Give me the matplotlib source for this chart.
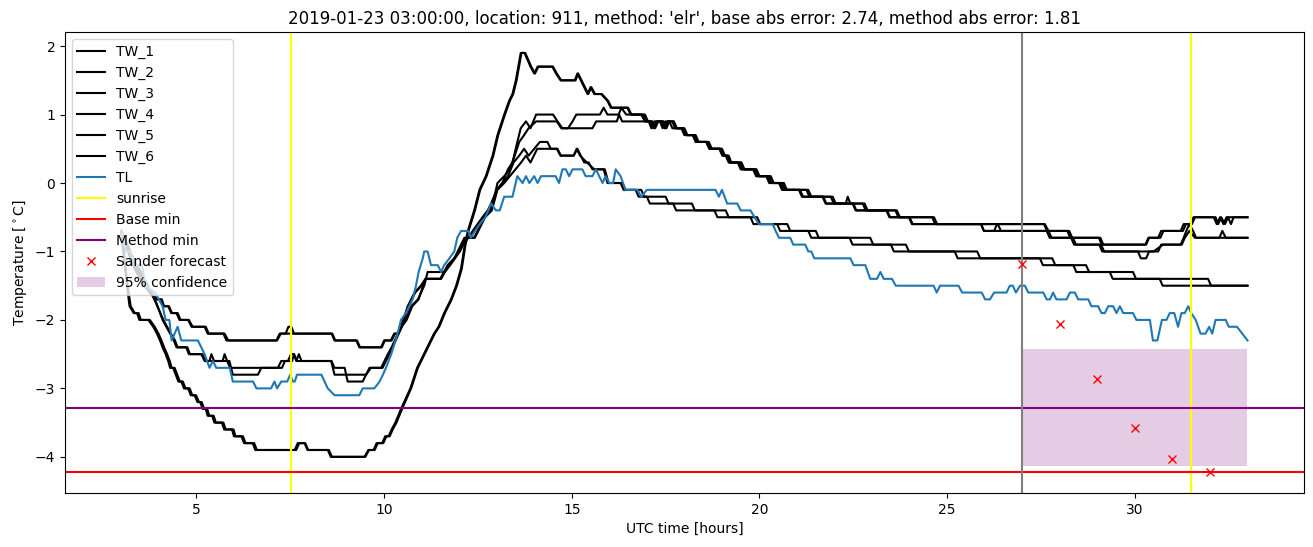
import matplotlib
matplotlib.use("Agg")
import matplotlib.pyplot as plt

# --- data (hours UTC, degC) ---
TW_1 = [(3.0,-0.7),(3.15,-1.5),(3.22,-1.8),(3.33,-1.9),(3.42,-1.9),(3.48,-2.0),(3.72,-2.0),(3.85,-2.1),
        (3.95,-2.2),(4.03,-2.3),(4.1,-2.4),(4.18,-2.5),(4.25,-2.6),(4.3,-2.7),(4.38,-2.7),(4.45,-2.8),
        (4.52,-2.9),(4.6,-2.9),(4.67,-3.0),(4.78,-3.0),(4.85,-3.1),(4.95,-3.1),(5.03,-3.2),(5.1,-3.2),
        (5.17,-3.3),(5.25,-3.3),(5.3,-3.4),(5.42,-3.4),(5.48,-3.5),(5.68,-3.5),(5.74,-3.6),(5.95,-3.6),
        (6.0,-3.7),(6.2,-3.7),(6.27,-3.8),(6.5,-3.8),(6.57,-3.9),(7.62,-3.9),(7.7,-3.8),(7.88,-3.8),
        (7.96,-3.9),(8.5,-3.9),(8.58,-4.0),(9.48,-4.0),(9.58,-3.9),(9.72,-3.9),(9.8,-3.8),(9.95,-3.8),
        (10.03,-3.7),(10.12,-3.7),(10.2,-3.6),(10.3,-3.5),(10.45,-3.3),(10.7,-3.0),(10.88,-2.7),(11.15,-2.4),
        (11.33,-2.2),(11.45,-2.1),(11.6,-1.9),(11.78,-1.7),(11.92,-1.5),(12.05,-1.25),(12.15,-0.9),(12.23,-0.7),
        (12.4,-0.4),(12.54,-0.1),(12.71,0.1),(12.89,0.4),(13.02,0.7),(13.2,1.0),(13.33,1.2),(13.42,1.3),
        (13.51,1.5),(13.64,1.9),(13.74,1.9),(13.9,1.7),(14.0,1.6),(14.09,1.7),(14.48,1.7),(14.58,1.6),
        (14.7,1.5),(15.08,1.5),(15.15,1.6),(15.42,1.3),(15.5,1.4),(15.6,1.3),(15.78,1.3),(15.95,1.2),
        (16.04,1.1),(16.48,1.1),(16.57,1.0),(16.9,1.0),(17.0,0.9),(17.1,0.9),(17.17,0.8),(17.25,0.9),
        (17.4,0.9),(17.47,0.8),(17.55,0.9),(17.68,0.9),(17.75,0.8),(17.95,0.8),(18.05,0.7),(18.22,0.7),
        (18.3,0.6),(18.6,0.6),(18.68,0.5),(18.95,0.5),(19.03,0.4),(19.13,0.4),(19.2,0.3),(19.45,0.3),
        (19.53,0.2),(19.85,0.2),(19.93,0.1),(20.2,0.1),(20.28,0.0),(20.55,0.0),(20.63,-0.1),(21.08,-0.1),
        (21.16,-0.2),(21.7,-0.2),(21.78,-0.3),(22.3,-0.3),(22.35,-0.2),(22.42,-0.3),(22.5,-0.3),(22.58,-0.4),
        (23.4,-0.4),(23.48,-0.5),(24.0,-0.5),(24.08,-0.6),(25.9,-0.6),(25.98,-0.7),(26.25,-0.7),(26.33,-0.6),
        (27.6,-0.6),(27.7,-0.7),(28.2,-0.7),(28.28,-0.8),(29.04,-0.8),(29.12,-0.9),(30.3,-0.9),(30.38,-0.8),
        (30.62,-0.8),(30.7,-0.7),(31.22,-0.7),(31.3,-0.6),(31.48,-0.6),(31.56,-0.5),(32.15,-0.5),(32.22,-0.6),
        (32.3,-0.5),(32.4,-0.6),(32.48,-0.5),(32.56,-0.6),(32.63,-0.5),(33.0,-0.5)]

TW_2 = [(3.0,-0.7),(3.17,-1.5),(3.25,-1.8),(3.36,-1.9),(3.46,-1.9),(3.52,-2.0),(3.76,-2.0),(3.89,-2.1),
        (3.99,-2.2),(4.07,-2.3),(4.14,-2.4),(4.22,-2.5),(4.29,-2.6),(4.34,-2.7),(4.42,-2.7),(4.49,-2.8),
        (4.56,-2.9),(4.64,-2.9),(4.71,-3.0),(4.82,-3.0),(4.89,-3.1),(4.99,-3.1),(5.07,-3.2),(5.14,-3.2),
        (5.21,-3.3),(5.29,-3.3),(5.34,-3.4),(5.46,-3.4),(5.52,-3.5),(5.72,-3.5),(5.78,-3.6),(5.99,-3.6),
        (6.04,-3.7),(6.24,-3.7),(6.31,-3.8),(6.54,-3.8),(6.61,-3.9),(7.66,-3.9),(7.74,-3.8),(7.9,-3.8),
        (7.98,-3.9),(8.53,-3.9),(8.61,-4.0),(9.5,-4.0),(9.6,-3.9),(9.75,-3.9),(9.83,-3.8),(9.98,-3.8),
        (10.06,-3.7),(10.15,-3.7),(10.23,-3.6),(10.33,-3.5),(10.48,-3.3),(10.72,-3.0),(10.9,-2.7),(11.17,-2.4),
        (11.35,-2.2),(11.47,-2.1),(11.62,-1.9),(11.8,-1.7),(11.94,-1.5),(12.07,-1.25),(12.17,-0.9),(12.25,-0.7),
        (12.42,-0.4),(12.56,-0.1),(12.73,0.1),(12.91,0.4),(13.04,0.7),(13.22,1.0),(13.35,1.2),(13.44,1.3),
        (13.53,1.5),(13.66,1.9),(13.76,1.9),(13.92,1.7),(14.02,1.6),(14.11,1.7),(14.5,1.7),(14.6,1.6),
        (14.72,1.5),(15.1,1.5),(15.17,1.6),(15.44,1.3),(15.52,1.4),(15.62,1.3),(15.8,1.3),(15.97,1.2),
        (16.06,1.1),(16.5,1.1),(16.59,1.0),(16.95,1.0),(17.03,0.9),(17.15,0.9),(17.22,0.8),(17.3,0.9),
        (17.42,0.9),(17.5,0.8),(17.58,0.9),(17.7,0.9),(17.78,0.8),(17.98,0.8),(18.06,0.7),(18.24,0.7),
        (18.32,0.6),(18.58,0.6),(18.66,0.5),(18.93,0.5),(19.01,0.4),(19.1,0.4),(19.18,0.3),(19.42,0.3),
        (19.5,0.2),(19.83,0.2),(19.91,0.1),(20.18,0.1),(20.26,0.0),(20.52,0.0),(20.6,-0.1),(21.05,-0.1),
        (21.13,-0.2),(21.68,-0.2),(21.76,-0.3),(22.48,-0.3),(22.56,-0.4),(23.38,-0.4),(23.46,-0.5),(23.98,-0.5),
        (24.06,-0.6),(27.58,-0.6),(27.66,-0.7),(28.25,-0.7),(28.33,-0.8),(29.08,-0.8),(29.16,-0.9),(30.28,-0.9),
        (30.36,-0.8),(30.68,-0.8),(30.76,-0.7),(31.28,-0.7),(31.36,-0.6),(31.52,-0.6),(31.6,-0.5),(32.1,-0.5),
        (32.18,-0.6),(32.27,-0.5),(32.36,-0.6),(32.44,-0.5),(33.0,-0.5)]

TW_3 = [(3.0,-0.7),(3.3,-1.15),(3.6,-1.45),(3.75,-1.6),(3.95,-1.7),(4.05,-1.7),(4.11,-1.8),(4.25,-1.8),
        (4.33,-1.9),(4.47,-1.9),(4.55,-2.0),(4.78,-2.0),(4.87,-2.1),(5.22,-2.1),(5.3,-2.2),(5.72,-2.2),
        (5.8,-2.3),(7.13,-2.3),(7.22,-2.2),(7.38,-2.2),(7.45,-2.1),(7.53,-2.1),(7.6,-2.2),(8.6,-2.2),
        (8.68,-2.3),(9.26,-2.3),(9.34,-2.4),(9.92,-2.4),(10.0,-2.3),(10.18,-2.3),(10.27,-2.2),(10.36,-2.2),
        (10.45,-2.1),(10.58,-2.0),(10.72,-1.8),(10.9,-1.7),(11.07,-1.5),(11.16,-1.3),(11.6,-1.3),(11.69,-1.2),
        (11.87,-1.1),(11.96,-1.0),(12.05,-0.9),(12.14,-0.8),(12.25,-0.8),(12.36,-0.7),(12.49,-0.6),(12.62,-0.5),
        (12.76,-0.4),(12.85,-0.3),(13.0,-0.1),(13.15,0.0),(13.3,0.2),(13.42,0.3),(13.55,0.6),(13.64,0.8),
        (13.78,0.9),(13.9,0.8),(14.05,1.0),(14.5,1.0),(14.62,0.9),(14.75,0.8),(14.9,0.8),(15.02,0.9),
        (15.12,1.0),(15.75,1.0),(15.85,1.1),(15.95,1.0),(16.25,1.0),(16.32,1.1),(16.45,1.0),(16.85,1.0),
        (16.95,0.9),(17.12,0.9),(17.2,0.8),(17.3,0.9),(17.45,0.9),(17.52,0.8),(17.6,0.9),(17.72,0.9),
        (17.8,0.8),(18.0,0.8),(18.08,0.7),(18.27,0.7),(18.35,0.6),(18.62,0.6),(18.7,0.5),(18.98,0.5),
        (19.06,0.4),(19.15,0.4),(19.22,0.3),(19.5,0.3),(19.58,0.2),(19.9,0.2),(19.98,0.1),(20.25,0.1),
        (20.33,0.0),(20.6,0.0),(20.68,-0.1),(21.25,-0.1),(21.33,-0.2),(21.9,-0.2),(21.98,-0.3),(22.75,-0.3),
        (22.83,-0.4),(23.62,-0.4),(23.7,-0.5),(24.6,-0.5),(24.68,-0.6),(25.9,-0.6),(25.98,-0.7),(27.65,-0.7),
        (27.73,-0.8),(28.3,-0.8),(28.38,-0.9),(29.05,-0.9),(29.13,-1.0),(30.08,-1.0),(30.16,-1.1),(30.3,-1.1),
        (30.38,-1.0),(30.62,-1.0),(30.7,-0.9),(31.22,-0.9),(31.3,-0.8),(31.37,-0.7),(31.45,-0.6),(31.55,-0.7),
        (31.63,-0.8),(32.25,-0.8),(32.33,-0.7),(32.42,-0.8),(33.0,-0.8)]

TW_4 = [(3.0,-0.7),(3.3,-1.2),(3.6,-1.5),(3.78,-1.6),(3.97,-1.7),(4.08,-1.7),(4.14,-1.8),(4.27,-1.8),
        (4.35,-1.9),(4.5,-1.9),(4.58,-2.0),(4.8,-2.0),(4.9,-2.1),(5.25,-2.1),(5.33,-2.2),(5.75,-2.2),
        (5.85,-2.3),(7.15,-2.3),(7.25,-2.2),(8.62,-2.2),(8.7,-2.3),(9.28,-2.3),(9.36,-2.4),(9.94,-2.4),
        (10.02,-2.3),(10.2,-2.3),(10.29,-2.2),(10.38,-2.2),(10.47,-2.1),(10.6,-2.0),(10.75,-1.8),(10.92,-1.7),
        (11.1,-1.4),(11.5,-1.4),(11.6,-1.3),(11.72,-1.2),(11.88,-1.1),(11.98,-1.0),(12.08,-0.9),(12.2,-0.8),
        (12.3,-0.8),(12.4,-0.7),(12.55,-0.6),(12.68,-0.5),(12.8,-0.4),(12.9,-0.3),(13.02,0.0),(13.2,0.1),
        (13.35,0.2),(13.48,0.4),(13.6,0.6),(13.73,0.7),(13.85,0.8),(14.05,0.9),(14.6,0.9),(14.72,0.8),
        (15.55,0.8),(15.65,0.9),(16.2,0.9),(16.26,1.0),(16.34,0.9),(17.05,0.9),(17.12,0.8),(17.2,0.9),
        (17.35,0.9),(17.42,0.8),(17.5,0.9),(17.6,0.9),(17.68,0.8),(17.92,0.8),(18.0,0.7),(18.3,0.7),
        (18.38,0.6),(18.65,0.6),(18.73,0.5),(19.0,0.5),(19.08,0.4),(19.18,0.4),(19.25,0.3),(19.52,0.3),
        (19.6,0.2),(19.92,0.2),(20.0,0.1),(20.3,0.1),(20.38,0.0),(20.65,0.0),(20.73,-0.1),(21.3,-0.1),
        (21.38,-0.2),(21.95,-0.2),(22.03,-0.3),(22.8,-0.3),(22.88,-0.4),(23.66,-0.4),(23.74,-0.5),(24.65,-0.5),
        (24.73,-0.6),(26.35,-0.6),(26.43,-0.7),(27.7,-0.7),(27.78,-0.8),(28.35,-0.8),(28.43,-0.9),(29.1,-0.9),
        (29.18,-1.0),(30.5,-1.0),(30.75,-0.9),(31.25,-0.9),(31.33,-0.8),(31.45,-0.7),(31.6,-0.8),(32.25,-0.8),
        (33.0,-0.8)]

TW_5 = [(3.0,-0.7),(3.3,-1.1),(3.6,-1.4),(3.9,-1.7),(4.1,-2.0),(4.3,-2.2),(4.4,-2.3),(4.47,-2.4),
        (4.73,-2.4),(4.8,-2.5),(5.13,-2.5),(5.22,-2.6),(5.35,-2.6),(5.4,-2.5),(5.47,-2.6),(5.7,-2.6),
        (5.75,-2.5),(5.82,-2.6),(5.9,-2.7),(7.17,-2.7),(7.26,-2.6),(7.44,-2.6),(7.52,-2.5),(7.6,-2.5),
        (7.66,-2.6),(7.73,-2.5),(7.8,-2.6),(8.59,-2.6),(8.68,-2.8),(9.52,-2.8),(9.61,-2.7),(9.92,-2.7),
        (10.01,-2.6),(10.1,-2.5),(10.2,-2.4),(10.45,-2.1),(10.63,-1.8),(10.81,-1.6),(10.98,-1.5),(11.1,-1.4),
        (11.5,-1.4),(11.6,-1.3),(11.74,-1.2),(11.87,-1.1),(12.0,-1.0),(12.09,-0.9),(12.22,-0.8),(12.4,-0.8),
        (12.49,-0.7),(12.67,-0.5),(12.85,-0.4),(13.0,-0.1),(13.15,0.0),(13.3,0.1),(13.45,0.3),(13.6,0.4),
        (13.73,0.5),(13.85,0.4),(14.0,0.5),(14.15,0.6),(14.35,0.6),(14.44,0.5),(14.62,0.5),(14.71,0.4),
        (15.05,0.4),(15.15,0.5),(15.33,0.3),(15.45,0.3),(15.55,0.2),(15.85,0.2),(15.95,0.0),(16.3,0.0),
        (16.38,-0.1),(16.7,-0.1),(16.78,-0.2),(17.0,-0.2),(17.08,-0.3),(17.7,-0.3),(17.78,-0.4),(18.8,-0.4),
        (18.88,-0.5),(19.76,-0.5),(19.84,-0.6),(20.47,-0.6),(20.55,-0.7),(21.3,-0.7),(21.38,-0.8),(22.4,-0.8),
        (22.48,-0.9),(23.5,-0.9),(23.58,-1.0),(25.2,-1.0),(25.28,-1.1),(27.47,-1.1),(27.55,-1.2),(28.36,-1.2),
        (28.44,-1.3),(29.33,-1.3),(29.41,-1.4),(30.66,-1.4),(30.74,-1.5),(33.0,-1.5)]

TW_6 = [(3.0,-0.7),(3.32,-1.1),(3.62,-1.4),(3.92,-1.75),(4.12,-2.0),(4.32,-2.2),(4.43,-2.3),(4.5,-2.4),
        (4.76,-2.4),(4.83,-2.5),(5.16,-2.5),(5.25,-2.6),(5.88,-2.6),(5.97,-2.8),(6.64,-2.8),(6.73,-2.7),
        (7.28,-2.7),(7.36,-2.6),(7.55,-2.6),(7.6,-2.5),(7.68,-2.6),(8.6,-2.6),(8.68,-2.7),(8.95,-2.7),
        (9.03,-2.9),(9.43,-2.9),(9.52,-2.8),(9.65,-2.7),(9.96,-2.7),(10.05,-2.6),(10.14,-2.5),(10.23,-2.4),
        (10.47,-2.1),(10.65,-1.8),(10.83,-1.6),(11.0,-1.5),(11.12,-1.4),(11.52,-1.4),(11.62,-1.3),(11.76,-1.2),
        (11.89,-1.1),(12.02,-1.0),(12.11,-0.9),(12.24,-0.8),(12.42,-0.8),(12.51,-0.7),(12.69,-0.5),(12.87,-0.4),
        (13.02,-0.1),(13.2,0.0),(13.35,0.1),(13.5,0.2),(13.65,0.3),(13.78,0.4),(13.9,0.3),(14.08,0.5),
        (14.6,0.5),(14.7,0.4),(15.05,0.4),(15.13,0.5),(15.22,0.4),(15.4,0.3),(15.6,0.2),(15.88,0.2),
        (15.98,0.0),(16.35,0.0),(16.43,-0.1),(16.85,-0.1),(16.93,-0.2),(17.5,-0.2),(17.58,-0.3),(18.2,-0.3),
        (18.28,-0.4),(19.1,-0.4),(19.18,-0.5),(19.94,-0.5),(20.02,-0.6),(20.74,-0.6),(20.82,-0.7),(21.5,-0.7),
        (21.58,-0.8),(22.95,-0.8),(23.03,-0.9),(23.9,-0.9),(23.98,-1.0),(25.8,-1.0),(25.88,-1.1),(27.8,-1.1),
        (27.88,-1.2),(28.7,-1.2),(28.78,-1.3),(29.95,-1.3),(30.03,-1.4),(31.95,-1.4),(32.03,-1.5),(33.0,-1.5)]

TL = [(3.0,-0.7),(3.12,-1.0),(3.25,-1.0),(3.35,-1.2),(3.55,-1.2),(3.65,-1.5),(3.9,-1.6),(4.0,-1.7),
      (4.1,-1.8),(4.18,-2.0),(4.28,-2.0),(4.34,-2.3),(4.5,-2.1),(4.6,-2.3),(5.04,-2.3),(5.22,-2.5),
      (5.35,-2.7),(5.44,-2.6),(5.53,-2.7),(5.89,-2.7),(5.97,-2.9),(6.51,-2.9),(6.6,-3.0),(6.99,-3.0),
      (7.08,-2.9),(7.15,-3.0),(7.26,-2.9),(7.42,-2.9),(7.5,-2.8),(7.57,-2.9),(7.62,-2.9),(7.68,-2.8),
      (8.33,-2.8),(8.5,-3.0),(8.68,-3.1),(9.34,-3.1),(9.43,-3.0),(9.74,-3.0),(9.88,-2.9),(9.97,-2.8),
      (10.05,-2.7),(10.19,-2.5),(10.36,-2.2),(10.45,-2.0),(10.58,-1.9),(10.67,-1.8),(10.76,-1.7),(10.85,-1.5),
      (10.92,-1.3),(11.03,-1.1),(11.07,-1.0),(11.16,-1.0),(11.25,-1.2),(11.43,-1.2),(11.52,-1.3),(11.6,-1.2),
      (11.74,-1.1),(11.87,-1.0),(11.95,-0.8),(12.05,-0.7),(12.25,-0.7),(12.31,-0.8),(12.42,-0.7),(12.55,-0.6),
      (12.7,-0.5),(12.85,-0.3),(12.98,-0.4),(13.08,-0.4),(13.2,-0.2),(13.42,-0.2),(13.55,0.1),(13.69,0.0),
      (13.78,0.1),(13.87,0.0),(14.0,0.1),(14.09,0.0),(14.18,0.1),(14.57,0.1),(14.66,0.0),(14.75,0.2),
      (14.84,0.2),(14.93,0.1),(15.02,0.2),(15.28,0.2),(15.37,0.1),(15.55,0.1),(15.64,0.2),(15.73,0.1),
      (15.82,0.0),(15.9,0.1),(16.0,0.0),(16.1,0.0),(16.17,0.2),(16.3,0.1),(16.43,-0.1),(16.75,-0.1),
      (16.85,-0.2),(17.0,-0.1),(18.83,-0.1),(18.92,-0.2),(19.0,-0.1),(19.14,-0.3),(19.41,-0.3),(19.5,-0.4),
      (19.76,-0.4),(19.87,-0.5),(19.98,-0.6),(20.35,-0.6),(20.43,-0.7),(20.52,-0.8),(20.82,-0.8),(20.9,-0.9),
      (21.22,-0.9),(21.3,-1.0),(21.38,-1.0),(21.46,-1.1),(22.42,-1.1),(22.51,-1.2),(22.82,-1.2),(22.95,-1.4),
      (23.13,-1.4),(23.22,-1.3),(23.31,-1.4),(23.53,-1.4),(23.63,-1.5),(24.64,-1.5),(24.72,-1.6),(24.81,-1.5),
      (25.3,-1.5),(25.4,-1.6),(25.92,-1.6),(26.01,-1.7),(26.14,-1.7),(26.25,-1.6),(26.58,-1.6),(26.67,-1.5),
      (26.75,-1.5),(26.83,-1.6),(26.94,-1.5),(27.07,-1.5),(27.16,-1.6),(27.56,-1.6),(27.65,-1.7),(27.74,-1.7),
      (27.82,-1.6),(27.91,-1.7),(28.18,-1.7),(28.27,-1.6),(28.4,-1.6),(28.49,-1.7),(28.76,-1.7),(28.84,-1.8),
      (29.02,-1.8),(29.11,-1.9),(29.2,-1.9),(29.29,-1.8),(29.42,-1.8),(29.51,-1.9),(29.6,-1.8),(29.69,-1.9),
      (29.95,-1.9),(30.04,-2.0),(30.4,-2.0),(30.48,-2.3),(30.6,-2.3),(30.72,-2.0),(30.84,-2.0),(30.93,-1.9),
      (31.05,-1.9),(31.15,-2.1),(31.24,-1.9),(31.33,-1.9),(31.42,-1.8),(31.5,-1.9),(31.62,-2.0),(31.75,-2.2),
      (31.88,-2.2),(31.98,-2.1),(32.06,-2.2),(32.15,-2.0),(32.42,-2.0),(32.5,-2.1),(32.72,-2.1),(33.0,-2.3)]

sunrise = [7.52, 31.5]
now_hour = 27.0
base_min = -4.22
method_min = -3.29
forecast_hours = [27, 28, 29, 30, 31, 32]
forecast_temp = [-1.19, -2.06, -2.87, -3.58, -4.03, -4.22]
conf_hours = [27, 33]
conf_low = -4.13
conf_high = -2.42

title = ("2019-01-23 03:00:00, location: 911, method: 'elr', "
         "base abs error: 2.74, method abs error: 1.81")

# --- plot ---
fig, ax = plt.subplots(figsize=(13.13, 5.47), dpi=100)
fig.subplots_adjust(left=0.0495, right=0.993, top=0.9415, bottom=0.099)

for name, series in [("TW_1", TW_1), ("TW_2", TW_2), ("TW_3", TW_3),
                     ("TW_4", TW_4), ("TW_5", TW_5), ("TW_6", TW_6)]:
    t, v = zip(*series)
    ax.plot(t, v, color="black", label=name)

t, v = zip(*TL)
ax.plot(t, v, color="tab:blue", label="TL")

ax.axvline(sunrise[0], color="yellow", label="sunrise")
ax.axvline(sunrise[1], color="yellow")
ax.axhline(base_min, color="red", label="Base min")
ax.axhline(method_min, color="purple", label="Method min")
ax.axvline(now_hour, color="gray")
ax.plot(forecast_hours, forecast_temp, "x", color="red", label="Sander forecast")
ax.fill_between(conf_hours, conf_low, conf_high, color="purple", alpha=0.2,
                linewidth=0, label="95% confidence")

ax.set_title(title)
ax.set_xlabel("UTC time [hours]")
ax.set_ylabel(r"Temperature [$^\circ$C]")
ax.legend(loc="upper left")

fig.savefig("out.png", dpi=100)
